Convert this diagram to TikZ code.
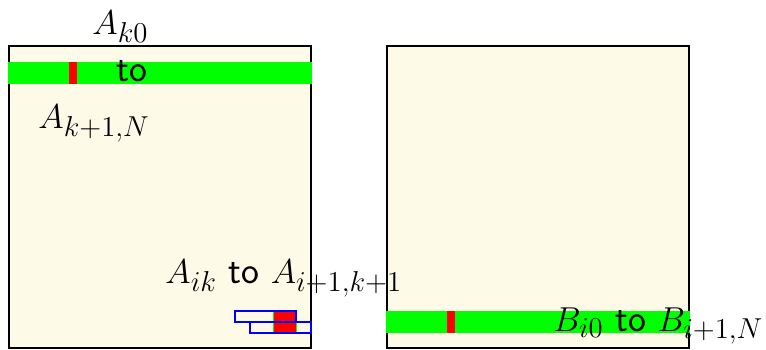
\documentclass[tikz,border=0pt]{standalone}
\definecolor{cream}{RGB}{254,250,232}
\definecolor{pgreen}{RGB}{0,255,0}
\definecolor{pred}{RGB}{255,0,0}
\definecolor{pblue}{RGB}{0,0,255}
\tikzset{
  panel/.style={draw=black,fill=cream,line width=0.6pt},
  band/.style={fill=pgreen},
  redmark/.style={fill=pred},
  blockbox/.style={draw=pblue,line width=1.1pt},
  lbl/.style={anchor=base west,inner sep=0pt,font=\fontsize{19}{23}\selectfont}
}
\begin{document}
\begin{tikzpicture}[x=0.5pt,y=-0.5pt]
\useasboundingbox (0,0) rectangle (766,349);
% panels
\draw[panel] (9,46) rectangle (311,348);
\draw[panel] (387,46) rectangle (689,348);
% left top band
\fill[band] (8,62) rectangle (312,84);
\fill[redmark] (69,62) rectangle (77,84);
% right bottom band
\fill[band] (386,311) rectangle (690,333);
\fill[redmark] (447,311) rectangle (455,333);
% small blocks
\filldraw[redmark,draw=pgreen,line width=0.4pt] (273,311) rectangle (296,333);
\draw[blockbox] (235,311) rectangle (296,322);
\draw[blockbox] (250,322) rectangle (311,333);
% labels
\node[lbl] (ak0) at (92,34) {$A_{k0}$};
\node[lbl] (to1) at (116,81) {\textsf{to}};
\node[lbl] (ak1) at (38,128) {$A_{k+1,N}$};
\node[lbl] (aik) at (165,283) {$A_{ik}$ \textsf{to} $A_{i+1,k+1}$};
\node[lbl] (bi0) at (553,331) {$B_{i0}$ \textsf{to} $B_{i+1,N}$};
\end{tikzpicture}
\end{document}
